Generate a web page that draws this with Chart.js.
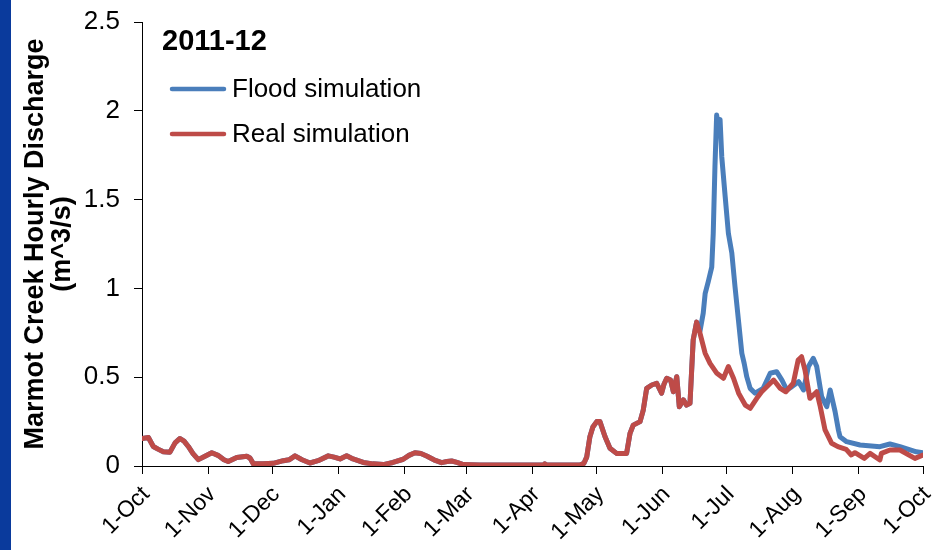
<!DOCTYPE html>
<html>
<head>
<meta charset="utf-8">
<script src="https://cdn.jsdelivr.net/npm/chart.js@4"></script>
<style>
  html, body { margin: 0; padding: 0; background: #fff; }
  #wrap { width: 943px; height: 550px; }
</style>
</head>
<body>
<div id="wrap"><canvas id="c" width="943" height="550"></canvas></div>
<script>
// Day offsets from 1 Oct 2011 for each month start (2012 is a leap year)
const monthDays = [0, 31, 61, 92, 123, 152, 183, 213, 244, 274, 305, 336, 366];
const monthLabels = ['1-Oct', '1-Nov', '1-Dec', '1-Jan', '1-Feb', '1-Mar', '1-Apr',
                     '1-May', '1-Jun', '1-Jul', '1-Aug', '1-Sep', '1-Oct'];
const yTicks = [0, 0.5, 1, 1.5, 2, 2.5];

// Real simulation: discharge (m^3/s) against day of water year
const realDays = [0, 3, 5.3, 7.5, 10, 13.1, 15.5, 17.8, 19.7, 21.7, 23.9, 26.4, 29.5, 32.7, 35.6,
  38.4, 40.4, 44.4, 49.1, 50.6, 52.2, 56.7, 61.5, 66.2, 68.9, 71.7, 75, 78.7, 82.5, 87.3, 90,
  92.8, 95.9, 98.9, 103.7, 108.2, 113.1, 117.6, 122.4, 125.1, 127.9, 130.7, 133.4, 136.8, 140.4,
  142.9, 145.1, 147.6, 150.6, 158.4, 177, 188.4, 188.8, 189.8, 205.2, 207.1, 208.4, 209.9, 211.3,
  213.1, 214.6, 217, 219.3, 222.4, 224.5, 227.1, 228.7, 230.2, 233.4, 234.9, 236.5, 238.9, 241.2,
  243.5, 244.6, 245.9, 247.7, 249, 250.6, 251.8, 253.7, 255.2, 256.8, 258.3, 259.9, 261.5, 263.9,
  266.2, 269.4, 272.5, 274.8, 277.2, 279.6, 282.7, 285, 288.1, 290.4, 296, 299.1, 301.7, 305.2,
  307.5, 309.1, 310.7, 313, 316.2, 317.7, 320.1, 323.2, 326.1, 330, 332.4, 334.1, 338.5, 341.2,
  345.8, 346.5, 350.5, 355.2, 362.2, 366];
const realQ = [0.155, 0.16, 0.11, 0.095, 0.08, 0.078, 0.13, 0.155, 0.14, 0.11, 0.07, 0.036, 0.055, 0.075, 0.06,
  0.035, 0.025, 0.048, 0.055, 0.045, 0.012, 0.012, 0.015, 0.03, 0.035, 0.057, 0.035, 0.017, 0.03, 0.057, 0.05,
  0.04, 0.058, 0.04, 0.02, 0.012, 0.008, 0.02, 0.038, 0.06, 0.075, 0.07, 0.056, 0.035, 0.019,
  0.025, 0.028, 0.02, 0.008, 0.005, 0.005, 0.005, 0.012, 0.005, 0.005, 0.015, 0.05, 0.165, 0.22,
  0.25, 0.25, 0.165, 0.1, 0.071, 0.07, 0.071, 0.184, 0.23, 0.25, 0.315, 0.437, 0.456, 0.466,
  0.41, 0.46, 0.494, 0.484, 0.418, 0.503, 0.334, 0.372, 0.343, 0.353, 0.709, 0.81, 0.747, 0.635,
  0.578, 0.522, 0.494, 0.56, 0.494, 0.41, 0.343, 0.325, 0.381, 0.418, 0.484, 0.437, 0.418, 0.466,
  0.597, 0.615, 0.54, 0.381, 0.418, 0.343, 0.203, 0.128, 0.109, 0.094, 0.062, 0.075, 0.043, 0.071,
  0.034, 0.071, 0.09, 0.09, 0.043, 0.062];

// Flood simulation follows the real run until late June, then diverges
const floodSplitDay = 259.9;
const floodDays = [261.5, 263, 263.9, 265.4, 267, 267.7, 268.5, 269.3, 270, 270.9, 271.7, 273.3,
  274.8, 276.4, 277.9, 279.5, 281.1, 282.2, 283.4, 285, 287.3, 291.1, 294.4, 297.4, 299.9, 302.2,
  304.6, 307.7, 310, 312.3, 314.6, 316.2, 318.5, 320.9, 322.5, 324.8, 326.4, 327.1, 330.2, 336.5,
  345.8, 350.5, 355.2, 362.9, 366];
const floodQ = [0.76, 0.86, 0.97, 1.04, 1.12, 1.31, 1.685, 1.976, 1.92, 1.95, 1.74, 1.516,
  1.31, 1.2, 1.01, 0.822, 0.635, 0.578, 0.503, 0.437, 0.41, 0.437, 0.522, 0.531, 0.484, 0.428,
  0.447, 0.475, 0.428, 0.56, 0.606, 0.56, 0.39, 0.334, 0.428, 0.306, 0.2, 0.165, 0.137, 0.118,
  0.109, 0.124, 0.109, 0.08, 0.075];

const seriesNames = ['Flood simulation', 'Real simulation'];
const panelTitle = '2011-12';
const yTitle = ['Marmot Creek Hourly Discharge', '(m^3/s)'];

const BLUE = '#4A7EBB';
const RED = '#BE4B48';
const FONT = "'Liberation Sans', Arial, sans-serif";

const toPoints = (xs, ys) => xs.map((x, i) => ({ x: x, y: ys[i] }));
const realPts = toPoints(realDays, realQ);
const floodPts = realPts.filter(p => p.x <= floodSplitDay).concat(toPoints(floodDays, floodQ));

// Background, side band and the in-plot key
const decor = {
  id: 'decor',
  beforeDraw(chart) {
    const ctx = chart.ctx;
    ctx.save();
    ctx.fillStyle = '#fff';
    ctx.fillRect(0, 0, chart.width, chart.height);
    ctx.fillStyle = '#0A3A9C';
    ctx.fillRect(0, 0, 11, chart.height);
    ctx.restore();
  },
  afterDraw(chart) {
    const ctx = chart.ctx;
    const a = chart.chartArea;
    ctx.save();
    ctx.fillStyle = '#000';
    ctx.textBaseline = 'middle';
    ctx.textAlign = 'left';
    ctx.font = 'bold 29px ' + FONT;
    ctx.fillText(panelTitle, a.left + 20, a.top + 20);
    const rows = [[seriesNames[0], BLUE, a.top + 67], [seriesNames[1], RED, a.top + 112]];
    ctx.font = '26px ' + FONT;
    rows.forEach(([label, color, y]) => {
      ctx.strokeStyle = color;
      ctx.lineWidth = 4.5;
      ctx.lineCap = 'round';
      ctx.beginPath();
      ctx.moveTo(a.left + 30, y);
      ctx.lineTo(a.left + 82, y);
      ctx.stroke();
      ctx.fillText(label, a.left + 90, y + 1);
    });
    ctx.restore();
  }
};

const lineStyle = { borderWidth: 5, pointRadius: 0, tension: 0, fill: false,
                    borderJoinStyle: 'round', borderCapStyle: 'round' };

new Chart(document.getElementById('c'), {
  type: 'line',
  data: {
    datasets: [
      Object.assign({ label: seriesNames[1], data: realPts, borderColor: RED, order: 0 }, lineStyle),
      Object.assign({ label: seriesNames[0], data: floodPts, borderColor: BLUE, order: 1 }, lineStyle)
    ]
  },
  options: {
    responsive: false,
    animation: false,
    devicePixelRatio: 1,
    layout: { padding: { top: 22, right: 20, left: 0, bottom: 0 } },
    plugins: { legend: { display: false }, tooltip: { enabled: false } },
    scales: {
      x: {
        type: 'linear',
        min: 0,
        max: 366,
        afterBuildTicks: s => { s.ticks = monthDays.map(v => ({ value: v })); },
        ticks: {
          autoSkip: false, minRotation: 45, maxRotation: 45, padding: 7, labelOffset: 4,
          color: '#000', font: { family: FONT, size: 23 },
          callback: (v, i) => monthLabels[i]
        },
        grid: { drawOnChartArea: false, tickLength: 8, color: '#000', lineWidth: 1 },
        border: { color: '#000', width: 1 },
        afterFit: s => { s.height = 84; s.paddingLeft = 0; s.paddingRight = 0; }
      },
      y: {
        min: 0,
        max: 2.5,
        afterBuildTicks: s => { s.ticks = yTicks.map(v => ({ value: v })); },
        ticks: {
          padding: 14, color: '#000', font: { family: FONT, size: 26 },
          callback: v => String(v)
        },
        grid: { drawOnChartArea: false, tickLength: 8, color: '#000', lineWidth: 1 },
        border: { color: '#000', width: 1 },
        title: {
          display: true, text: yTitle, color: '#000',
          font: { family: FONT, size: 27, weight: 'bold', lineHeight: 1.0 },
          padding: { top: 22, bottom: 0 }
        },
        afterFit: s => { s.width = 142; s.paddingTop = 0; s.paddingBottom = 0; }
      }
    }
  },
  plugins: [decor]
});
</script>
</body>
</html>
